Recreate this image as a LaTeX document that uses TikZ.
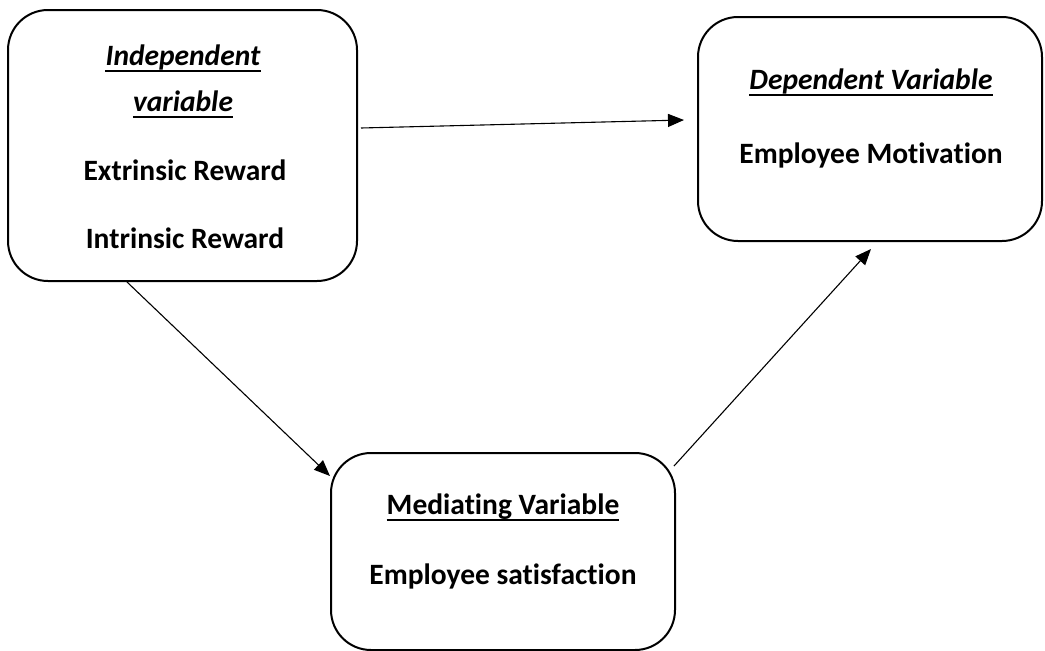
\documentclass[tikz,border=0pt]{standalone}
\usepackage{fontspec}
\setmainfont{Carlito}[Ligatures=NoCommon]
\usetikzlibrary{arrows.meta}
\begin{document}
\begin{tikzpicture}[x=1pt,y=-1pt,
  varbox/.style={draw, line width=2pt, rounded corners=40pt, inner sep=0pt},
  lbl/.style={anchor=base, inner sep=0pt, font=\fontsize{29.5}{34}\selectfont\bfseries},
  ilbl/.style={lbl, font=\fontsize{29.5}{34}\selectfont\bfseries\itshape},
  ul/.style={line width=2pt},
  conn/.style={line width=1.1pt, -{Triangle[length=16pt,width=13pt]}}]
\useasboundingbox (0,0) rectangle (1045,651);
% boxes
\node[varbox, minimum width=349pt, minimum height=271pt] (ind) at (182.5,145.5) {};
\node[varbox, minimum width=344pt, minimum height=224pt] (dep) at (870,129) {};
\node[varbox, minimum width=344pt, minimum height=197pt] (med) at (503,551.5) {};
% texts
\node[ilbl] (t1) at (183,65) {Independent};
\node[ilbl] (t2) at (183,111) {variable};
\node[lbl] (t3) at (185,180) {Extrinsic Reward};
\node[lbl] (t4) at (185,248) {Intrinsic Reward};
\node[ilbl] (t5) at (871,89) {Dependent Variable};
\node[lbl] (t6) at (871,163) {Employee Motivation};
\node[lbl] (t7) at (503,514) {Mediating Variable};
\node[lbl] (t8) at (503,584) {Employee satisfaction};
% underlines
\foreach \t in {t1,t2,t5,t7}
  \draw[ul] ([yshift=-5.5pt]\t.base west) -- ([yshift=-5.5pt]\t.base east);
% connectors
\coordinate (a1s) at (361,128);
\coordinate (a1e) at (684,120);
\coordinate (a2s) at (127,282);
\coordinate (a2e) at (330,476);
\coordinate (a3s) at (674,466);
\coordinate (a3e) at (871,249);
\draw[conn] (a1s) -- (a1e);
\draw[conn] (a2s) -- (a2e);
\draw[conn] (a3s) -- (a3e);
\end{tikzpicture}
\end{document}
